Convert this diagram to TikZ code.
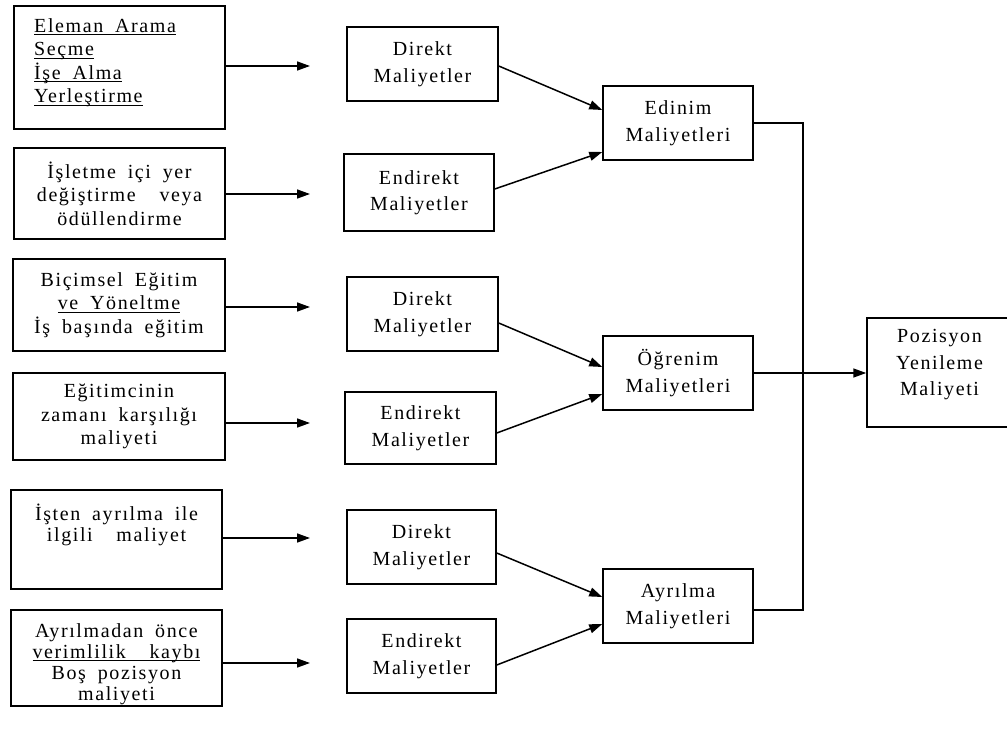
\documentclass[tikz,border=0pt]{standalone}
\usepackage{fontspec}
\setmainfont{Liberation Serif}[LetterSpace=8,WordSpace=1.8]
\usetikzlibrary{arrows.meta}
\newcommand\myul[1]{\setbox0\hbox{#1}\rlap{\rule[-2.8pt]{\wd0}{1pt}}\box0}
\begin{document}
\begin{tikzpicture}[x=1pt,y=-1pt,
  box/.style={draw=black, line width=1.5pt, inner sep=0pt, align=center},
  txt/.style={inner sep=0pt, align=center},
  lf/.style={font=\fontsize{20}{23.5}\selectfont},
  sf/.style={font=\fontsize{20}{21}\selectfont},
  mf/.style={font=\fontsize{20}{26.5}\selectfont},
  arr/.style={line width=1.5pt, -{Triangle[length=13pt,width=9pt]}},
  ln/.style={line width=1.5pt}]
\useasboundingbox (0,0) rectangle (1007,731);

% left column
\node[box, minimum width=211, minimum height=123] (L1) at (119.5,67.5) {};
\node[txt, lf, align=left, anchor=north west] (T1) at (34,18.3)
  {\myul{Eleman Arama}\\\myul{Seçme}\\\myul{İşe Alma}\\\myul{Yerleştirme}};
\node[box, lf, minimum width=211, minimum height=91] (L2) at (119.5,193.5)
  {İşletme içi yer\\değiştirme\ \ veya\\ödüllendirme};
\node[box, lf, minimum width=212, minimum height=92] (L3) at (119,305)
  {Biçimsel Eğitim\\\myul{ve Yöneltme}\\İş başında eğitim};
\node[box, lf, minimum width=212, minimum height=87] (L4) at (119,416.5)
  {Eğitimcinin\\zamanı karşılığı\\maliyeti};
\node[box, minimum width=211, minimum height=99] (L5) at (116.5,539.5) {};
\node[txt, sf, anchor=north] (T5) at (116.5,503.6)
  {İşten ayrılma ile\\ilgili\ \ maliyet};
\node[box, minimum width=211, minimum height=96] (L6) at (116.5,658) {};
\node[txt, sf, anchor=north] (T6) at (116.5,623.3)
  {Ayrılmadan önce\\\myul{verimlilik\ \ kaybı}\\Boş pozisyon\\maliyeti};

% middle column
\node[box, mf, minimum width=151, minimum height=74] (D1) at (422.5,64) {Direkt\\Maliyetler};
\node[box, mf, minimum width=150, minimum height=77] (E1) at (419,192.5) {Endirekt\\Maliyetler};
\node[box, mf, minimum width=151, minimum height=74] (D2) at (422.5,314) {Direkt\\Maliyetler};
\node[box, mf, minimum width=151, minimum height=72] (E2) at (420.5,428) {Endirekt\\Maliyetler};
\node[box, mf, minimum width=149, minimum height=74] (D3) at (421.5,547) {Direkt\\Maliyetler};
\node[box, mf, minimum width=149, minimum height=74] (E3) at (421.5,656) {Endirekt\\Maliyetler};

% sums
\node[box, mf, minimum width=150, minimum height=74] (Ed) at (678,123) {Edinim\\Maliyetleri};
\node[box, mf, minimum width=150, minimum height=74] (Og) at (678,373) {Öğrenim\\Maliyetleri};
\node[box, mf, minimum width=150, minimum height=74] (Ay) at (678,606) {Ayrılma\\Maliyetleri};

% result
\node[box, minimum width=145, minimum height=109] (Poz) at (939.5,372.5) {};
\node[txt, mf, anchor=north] (TP) at (939.5,329.3) {Pozisyon\\Yenileme\\Maliyeti};

% arrow ends
\coordinate (a1) at (310,66);
\coordinate (a2) at (310,194);
\coordinate (a3) at (310,307);
\coordinate (a4) at (310,423);
\coordinate (a5) at (310,538);
\coordinate (a6) at (310,663);
\draw[arr] (L1.east |- a1) -- (a1);
\draw[arr] (L2.east |- a2) -- (a2);
\draw[arr] (L3.east |- a3) -- (a3);
\draw[arr] (L4.east |- a4) -- (a4);
\draw[arr] (L5.east |- a5) -- (a5);
\draw[arr] (L6.east |- a6) -- (a6);

\draw[arr] ([yshift=-2pt]D1.east) -- ([yshift=13pt]Ed.west);
\draw[arr] ([yshift=3.5pt]E1.east) -- ([yshift=-29pt]Ed.west);
\draw[arr] ([yshift=-9pt]D2.east) -- ([yshift=6pt]Og.west);
\draw[arr] ([yshift=-5pt]E2.east) -- ([yshift=-21pt]Og.west);
\draw[arr] ([yshift=-6pt]D3.east) -- ([yshift=9pt]Ay.west);
\draw[arr] ([yshift=-9pt]E3.east) -- ([yshift=-18pt]Ay.west);

\coordinate (j1) at (803,123);
\coordinate (j2) at (803,610);
\draw[ln] (Ed.east) -- (j1) -- (j2) -- (Ay.east |- j2);
\draw[arr] (Og.east) -- (Og.east -| Poz.west);
\end{tikzpicture}
\end{document}
